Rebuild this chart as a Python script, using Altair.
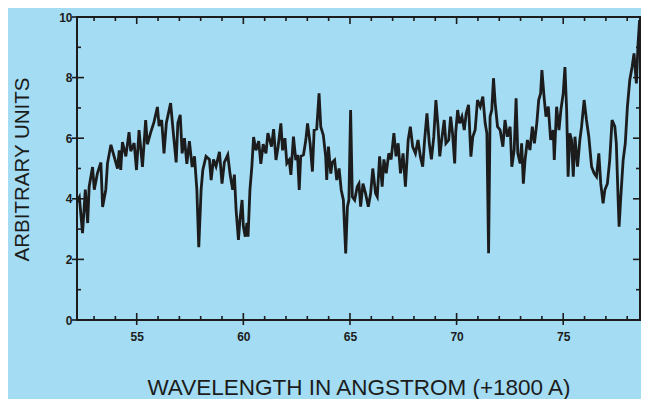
import altair as alt
import pandas as pd

# ---- data ----
wavelength = [
    52.20, 52.31, 52.46, 52.59, 52.70, 52.77, 52.93, 53.01, 53.16, 53.32,
    53.40, 53.55, 53.63, 53.79, 53.94, 54.10, 54.18, 54.25, 54.33, 54.49,
    54.64, 54.72, 54.88, 54.99, 55.11, 55.27, 55.42, 55.50, 55.66, 55.81,
    55.97, 56.05, 56.17, 56.28, 56.39, 56.59, 56.70, 56.85, 56.93, 57.04,
    57.13, 57.24, 57.35, 57.47, 57.60, 57.71, 57.82, 57.91, 58.02, 58.10,
    58.25, 58.41, 58.49, 58.60, 58.72, 58.88, 59.00, 59.11, 59.27, 59.38,
    59.50, 59.58, 59.66, 59.77, 59.84, 59.94, 60.00, 60.09, 60.17, 60.22,
    60.31, 60.40, 60.48, 60.59, 60.72, 60.82, 60.93, 61.06, 61.15, 61.32,
    61.42, 61.53, 61.63, 61.76, 61.84, 61.95, 62.04, 62.15, 62.23, 62.35,
    62.46, 62.54, 62.62, 62.69, 62.82, 62.93, 63.01, 63.13, 63.24, 63.32,
    63.44, 63.55, 63.63, 63.75, 63.86, 63.91, 63.99, 64.10, 64.17, 64.28,
    64.38, 64.49, 64.59, 64.69, 64.80, 64.88, 64.95, 65.03, 65.11, 65.22,
    65.34, 65.42, 65.50, 65.61, 65.73, 65.86, 65.97, 66.07, 66.20, 66.28,
    66.39, 66.51, 66.59, 66.70, 66.82, 66.93, 67.06, 67.16, 67.26, 67.37,
    67.49, 67.60, 67.73, 67.83, 67.94, 68.07, 68.19, 68.30, 68.41, 68.50,
    68.61, 68.72, 68.82, 68.93, 69.03, 69.13, 69.21, 69.32, 69.42, 69.50,
    69.63, 69.72, 69.81, 69.91, 69.96, 70.05, 70.14, 70.25, 70.36, 70.45,
    70.56, 70.67, 70.76, 70.87, 70.98, 71.11, 71.23, 71.34, 71.42, 71.50,
    71.57, 71.65, 71.73, 71.81, 71.92, 72.04, 72.17, 72.27, 72.38, 72.51,
    72.59, 72.70, 72.79, 72.87, 72.98, 73.05, 73.13, 73.21, 73.32, 73.44,
    73.55, 73.65, 73.76, 73.85, 73.94, 74.00, 74.10, 74.19, 74.30, 74.41,
    74.53, 74.58, 74.69, 74.80, 74.89, 75.00, 75.08, 75.16, 75.23, 75.31,
    75.39, 75.47, 75.55, 75.67, 75.78, 75.86, 75.98, 76.09, 76.20, 76.33,
    76.45, 76.56, 76.67, 76.76, 76.87, 76.95, 77.07, 77.18, 77.29, 77.42,
    77.49, 77.57, 77.62, 77.70, 77.81, 77.91, 78.01, 78.12, 78.23, 78.32,
    78.43, 78.51, 78.58, 78.66, 78.74, 78.85, 78.90,
]
intensity = [
    3.90, 4.05, 2.87, 4.30, 3.20, 4.40, 5.05, 4.30, 4.85, 5.20,
    3.73, 4.30, 5.17, 5.78, 5.40, 5.00, 5.60, 4.95, 5.87, 5.40,
    6.20, 5.57, 5.84, 4.95, 6.27, 5.05, 6.60, 5.80, 6.20, 6.53,
    7.03, 6.40, 6.60, 5.50, 6.50, 7.16, 6.30, 5.20, 6.50, 6.77,
    5.50, 6.00, 5.15, 5.90, 5.05, 5.40, 4.30, 2.40, 4.30, 4.95,
    5.40, 5.30, 4.62, 5.30, 5.07, 5.55, 4.50, 5.20, 5.45, 4.80,
    4.30, 4.80, 3.63, 2.64, 3.30, 3.96, 3.10, 2.75, 3.20, 2.75,
    4.30, 5.07, 6.04, 5.60, 5.90, 5.15, 5.80, 5.50, 6.17, 5.72,
    6.30, 5.28, 5.72, 6.49, 5.60, 6.00, 5.17, 5.28, 4.79, 6.05,
    5.28, 5.45, 4.29, 5.40, 5.45, 5.94, 6.49, 5.83, 4.90, 6.27,
    6.30, 7.48, 6.38, 6.10, 5.40, 4.62, 5.72, 4.83, 5.20, 5.28,
    4.62, 5.00, 4.29, 3.96, 2.20, 3.74, 3.96, 6.93, 4.07, 3.96,
    4.40, 4.50, 3.74, 4.50, 4.18, 3.74, 4.18, 5.00, 4.18, 4.07,
    5.40, 4.40, 5.30, 4.84, 5.50, 5.30, 6.17, 5.40, 5.83, 4.84,
    5.50, 4.40, 5.94, 6.38, 5.72, 5.50, 5.94, 5.40, 5.06, 5.94,
    6.82, 5.83, 5.30, 6.05, 7.26, 6.38, 5.40, 6.05, 6.60, 5.83,
    5.94, 6.71, 6.16, 5.17, 6.20, 6.93, 6.49, 6.71, 6.27, 6.82,
    7.10, 5.39, 6.05, 6.27, 7.26, 7.04, 7.37, 6.49, 6.16, 2.20,
    6.71, 6.93, 7.98, 7.15, 6.38, 6.27, 5.72, 6.60, 6.05, 6.38,
    5.06, 5.61, 7.32, 5.50, 5.17, 5.83, 4.50, 5.28, 5.94, 5.61,
    6.38, 5.83, 6.49, 7.26, 7.48, 8.25, 7.37, 6.71, 7.04, 5.94,
    6.27, 5.28, 7.04, 6.27, 6.93, 7.48, 8.35, 6.93, 4.73, 6.16,
    5.94, 4.73, 6.05, 5.06, 5.94, 6.38, 7.26, 6.60, 6.05, 5.06,
    4.84, 4.73, 5.50, 4.50, 3.85, 4.29, 4.50, 5.28, 6.60, 6.38,
    5.83, 4.07, 3.08, 4.07, 5.28, 5.83, 7.04, 7.92, 8.35, 8.80,
    7.81, 9.13, 9.90, 9.13, 8.69, 8.25, 8.50,
]

x_major = [55, 60, 65, 70, 75]
x_minor = [53, 54, 56, 57, 58, 59, 61, 62, 63, 64, 66, 67, 68, 69,
           71, 72, 73, 74, 76, 77, 78]
y_major = [0, 2, 4, 6, 8, 10]
y_minor = [1, 3, 5, 7, 9]

x_title = "WAVELENGTH IN ANGSTROM (+1800 A)"
y_title = "ARBITRARY UNITS"

# ---- style ----
W, H = 563, 303
BG = "#a3dcf3"
INK = "#1c1c1c"
FONT = "Liberation Sans"

xs = alt.Scale(domain=[52.2, 78.6], nice=False, zero=False)
ys = alt.Scale(domain=[0, 10], nice=False, zero=False)

x_axis = alt.Axis(
    values=x_major, format="d", title=x_title, grid=False, domain=False,
    ticks=False, tickSize=0, labelFont=FONT, labelFontSize=12,
    labelFontWeight="bold", labelColor=INK, labelPadding=11,
    labelBaseline="top", titleFont=FONT, titleFontSize=22.5,
    titleFontWeight="normal", titleColor=INK, titleY=74,
    titleBaseline="alphabetic",
)
y_axis = alt.Axis(
    values=y_major, format="d", title=y_title, grid=False, domain=False,
    ticks=False, tickSize=0, labelFont=FONT, labelFontSize=12,
    labelFontWeight="bold", labelColor=INK, labelPadding=5,
    titleFont=FONT, titleFontSize=20.5, titleFontWeight="normal",
    titleColor=INK, titleAngle=270, titleX=-49, titleY=152,
    titleAlign="center", titleBaseline="alphabetic",
)

spec = pd.DataFrame({"wl": wavelength, "val": intensity})

line = alt.Chart(spec).mark_line(
    color=INK, strokeWidth=2.8, clip=True, strokeJoin="miter"
).encode(
    x=alt.X("wl:Q", scale=xs, axis=x_axis),
    y=alt.Y("val:Q", scale=ys, axis=y_axis),
)

xmaj = pd.DataFrame({"t": x_major})
xmin = pd.DataFrame({"t": x_minor})
ymaj = pd.DataFrame({"t": y_major})
ymin = pd.DataFrame({"t": y_minor})


def xr(df, y1, y2):
    return alt.Chart(df).mark_rule(color=INK, strokeWidth=1.6).encode(
        x=alt.X("t:Q", scale=xs, axis=x_axis),
        y=alt.value(y1), y2=alt.value(y2),
    )


def yr(df, x1, x2):
    return alt.Chart(df).mark_rule(color=INK, strokeWidth=1.6).encode(
        y=alt.Y("t:Q", scale=ys, axis=y_axis),
        x=alt.value(x1), x2=alt.value(x2),
    )


ticks = [
    xr(xmaj, H + 5, H - 7), xr(xmin, H, H - 4),
    xr(xmaj, 0, 7), xr(xmin, 0, 4),
    yr(ymaj, -5, 7), yr(ymin, 0, 4),
    yr(ymaj, W, W - 7), yr(ymin, W, W - 4),
]

chart = alt.layer(line, *ticks).properties(
    width=W, height=H,
    autosize=alt.AutoSizeParams(type="none"),
    padding={"left": 69, "top": 9, "right": 1, "bottom": 79},
    background=BG,
).configure_view(
    stroke=INK, strokeWidth=2
)

chart.save("out.html", embed_options={"renderer": "svg", "actions": False})
